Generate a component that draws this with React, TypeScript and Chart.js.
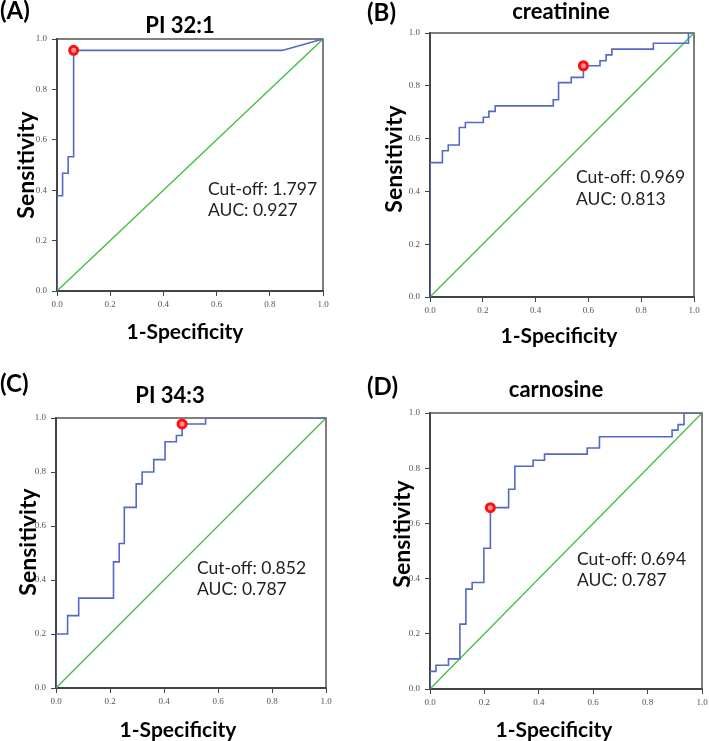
import { useEffect, useRef } from "react";
import { Chart, registerables } from "chart.js";
Chart.register(...registerables);

const W = 709;
const H = 741;

// ---- Data ----
const panelLabels = ["(A)", "(B)", "(C)", "(D)"];
const titles = ["PI 32:1", "creatinine", "PI 34:3", "carnosine"];
const cutoffs = ["1.797", "0.969", "0.852", "0.694"];
const aucs = ["0.927", "0.813", "0.787", "0.787"];
const tickValues = [0, 0.2, 0.4, 0.6, 0.8, 1.0];
const diagFpr = [0, 1];
const diagTpr = [0, 1];

// (A) PI 32:1
const fprA = [0, 0, 0.021, 0.042, 0.0625, 0.85];
const tprA = [0, 0.378, 0.467, 0.533, 0.955, 0.955];
const tieFprA = [0.85, 1];
const tieTprA = [0.955, 1];

// (B) creatinine
const fprB = [0, 0, 0.047, 0.069, 0.111, 0.134, 0.202, 0.223, 0.247, 0.467, 0.487, 0.535, 0.581, 0.644, 0.667, 0.689, 0.846, 0.979, 1];
const tprB = [0, 0.509, 0.554, 0.576, 0.642, 0.661, 0.681, 0.703, 0.724, 0.747, 0.812, 0.832, 0.876, 0.895, 0.917, 0.939, 0.961, 1.0, 1.0];

// (C) PI 34:3
const fprC = [0, 0, 0.043, 0.084, 0.213, 0.234, 0.253, 0.297, 0.319, 0.362, 0.404, 0.446, 0.467, 0.554, 1];
const tprC = [0, 0.2, 0.268, 0.333, 0.467, 0.535, 0.669, 0.756, 0.8, 0.846, 0.912, 0.935, 0.978, 1.0, 1.0];

// (D) carnosine
const fprD = [0, 0, 0.022, 0.068, 0.11, 0.132, 0.155, 0.198, 0.222, 0.289, 0.312, 0.379, 0.421, 0.578, 0.623, 0.89, 0.912, 0.934, 1];
const tprD = [0, 0.064, 0.086, 0.109, 0.235, 0.362, 0.386, 0.51, 0.657, 0.724, 0.807, 0.829, 0.851, 0.873, 0.914, 0.938, 0.958, 1.0, 1.0];

// cut-off points
const cutFpr = [0.0625, 0.581, 0.467, 0.222];
const cutTpr = [0.955, 0.876, 0.978, 0.657];

const rocFpr = [fprA, fprB, fprC, fprD];
const rocTpr = [tprA, tprB, tprC, tprD];

// ---- Layout / style ----
const layouts = [
  { area: { l: 57, t: 39, r: 323, b: 291 }, label: { x: 0, y: 19 }, title: { x: 180, y: 33 }, yTitle: { x: 34, y: 165 }, xTitle: { x: 185, y: 339 }, ann: { x: 208, y1: 195, y2: 216 } },
  { area: { l: 430, t: 33, r: 694, b: 297 }, label: { x: 367, y: 21 }, title: { x: 561, y: 19 }, yTitle: { x: 402, y: 159 }, xTitle: { x: 559, y: 343 }, ann: { x: 576, y1: 183, y2: 205 } },
  { area: { l: 56, t: 418, r: 326, b: 688 }, label: { x: 0, y: 392 }, title: { x: 170, y: 403 }, yTitle: { x: 36, y: 542 }, xTitle: { x: 178, y: 737 }, ann: { x: 197, y1: 574, y2: 595 } },
  { area: { l: 430, t: 413, r: 703, b: 689 }, label: { x: 367, y: 395 }, title: { x: 556, y: 397 }, yTitle: { x: 410, y: 534 }, xTitle: { x: 554, y: 737 }, ann: { x: 577, y1: 565, y2: 586 } },
];

const BLUE = "#5468c8";
const GREEN = "#3ec03e";
const AXIS = "#444";
const FONT = "Lato, 'Open Sans', sans-serif";
const Y_AXIS_W = 40;
const X_AXIS_H = 30;

function makePlugin(i: number) {
  const L = layouts[i];
  return {
    id: "panelText" + i,
    beforeDatasetsDraw(chart: any) {
      const { ctx, chartArea } = chart;
      ctx.save();
      ctx.strokeStyle = "#555";
      ctx.lineWidth = 1.5;
      ctx.beginPath();
      ctx.moveTo(chartArea.left, chartArea.top);
      ctx.lineTo(chartArea.right, chartArea.top);
      ctx.lineTo(chartArea.right, chartArea.bottom);
      ctx.stroke();
      ctx.restore();
    },
    afterDraw(chart: any) {
      const ctx = chart.ctx;
      ctx.save();
      ctx.fillStyle = "#000";
      ctx.textBaseline = "alphabetic";
      ctx.textAlign = "left";
      ctx.font = `700 24px ${FONT}`;
      ctx.fillText(panelLabels[i], L.label.x, L.label.y);
      ctx.textAlign = "center";
      ctx.font = `700 22px ${FONT}`;
      ctx.fillText(titles[i], L.title.x, L.title.y);
      ctx.font = `700 21px ${FONT}`;
      ctx.fillText("1-Specificity", L.xTitle.x, L.xTitle.y);
      ctx.save();
      ctx.translate(L.yTitle.x, L.yTitle.y);
      ctx.rotate(-Math.PI / 2);
      ctx.font = `700 23px ${FONT}`;
      ctx.fillText("Sensitivity", 0, 0);
      ctx.restore();
      ctx.textAlign = "left";
      ctx.fillStyle = "#222";
      ctx.font = `400 17.5px ${FONT}`;
      ctx.fillText("Cut-off: " + cutoffs[i], L.ann.x, L.ann.y1);
      ctx.fillText("AUC: " + aucs[i], L.ann.x, L.ann.y2);
      ctx.restore();
    },
  };
}

function zip(xs: number[], ys: number[]) {
  return xs.map((x, k) => ({ x, y: ys[k] }));
}

function buildConfig(i: number): any {
  const L = layouts[i];
  const datasets: any[] = [
    {
      label: "cut-off",
      data: [{ x: cutFpr[i], y: cutTpr[i] }],
      showLine: false,
      pointRadius: 4,
      pointBorderWidth: 3,
      pointBorderColor: "#ff1010",
      pointBackgroundColor: "#ff9090",
    },
    {
      label: "ROC",
      data: zip(rocFpr[i], rocTpr[i]),
      showLine: true,
      stepped: "before",
      borderColor: BLUE,
      borderWidth: 1.6,
      pointRadius: 0,
      fill: false,
    },
  ];
  if (i === 0) {
    datasets.push({
      label: "tie",
      data: zip(tieFprA, tieTprA),
      showLine: true,
      borderColor: BLUE,
      borderWidth: 1.6,
      pointRadius: 0,
      fill: false,
    });
  }
  datasets.push({
    label: "reference",
    data: zip(diagFpr, diagTpr),
    showLine: true,
    borderColor: GREEN,
    borderWidth: 1.3,
    pointRadius: 0,
    fill: false,
  });

  const fixTicks = (scale: any) => {
    scale.ticks = tickValues.map((v) => ({ value: v }));
  };
  const tickFont = { family: "'Liberation Serif', serif", size: 9 };

  return {
    type: "scatter",
    data: { datasets },
    options: {
      animation: false,
      responsive: false,
      devicePixelRatio: 1,
      layout: {
        padding: {
          left: L.area.l - Y_AXIS_W,
          top: L.area.t,
          right: W - L.area.r,
          bottom: H - L.area.b - X_AXIS_H,
        },
      },
      plugins: { legend: { display: false }, tooltip: { enabled: false }, title: { display: false } },
      scales: {
        x: {
          type: "linear",
          min: 0,
          max: 1,
          afterBuildTicks: fixTicks,
          afterFit: (s: any) => {
            s.height = X_AXIS_H;
            s.paddingLeft = 0; s.paddingRight = 0; s.paddingTop = 0; s.paddingBottom = 0;
          },
          ticks: { font: tickFont, color: "#555", padding: 3, autoSkip: false, maxRotation: 0, callback: (v: number) => Number(v).toFixed(1) },
          grid: { display: true, drawOnChartArea: false, drawTicks: true, tickLength: 5, color: AXIS, lineWidth: 1 },
          border: { display: true, color: AXIS, width: 2 },
        },
        y: {
          type: "linear",
          min: 0,
          max: 1,
          afterBuildTicks: fixTicks,
          afterFit: (s: any) => {
            s.width = Y_AXIS_W;
            s.paddingLeft = 0; s.paddingRight = 0; s.paddingTop = 0; s.paddingBottom = 0;
          },
          ticks: { font: tickFont, color: "#555", padding: 5, autoSkip: false, callback: (v: number) => Number(v).toFixed(1) },
          grid: { display: true, drawOnChartArea: false, drawTicks: true, tickLength: 5, color: AXIS, lineWidth: 1 },
          border: { display: true, color: AXIS, width: 2 },
        },
      },
    },
    plugins: [makePlugin(i)],
  };
}

function Panel({ index }: { index: number }) {
  const ref = useRef<HTMLCanvasElement | null>(null);
  useEffect(() => {
    if (!ref.current) return;
    const chart = new Chart(ref.current, buildConfig(index));
    return () => chart.destroy();
  }, [index]);
  return (
    <canvas
      ref={ref}
      width={W}
      height={H}
      style={{ position: "absolute", left: 0, top: 0, width: W, height: H }}
    />
  );
}

export default function App() {
  return (
    <div style={{ position: "absolute", left: 0, top: 0, width: W, height: H, background: "#fff", overflow: "hidden" }}>
      {[0, 1, 2, 3].map((i) => (
        <Panel key={i} index={i} />
      ))}
    </div>
  );
}
